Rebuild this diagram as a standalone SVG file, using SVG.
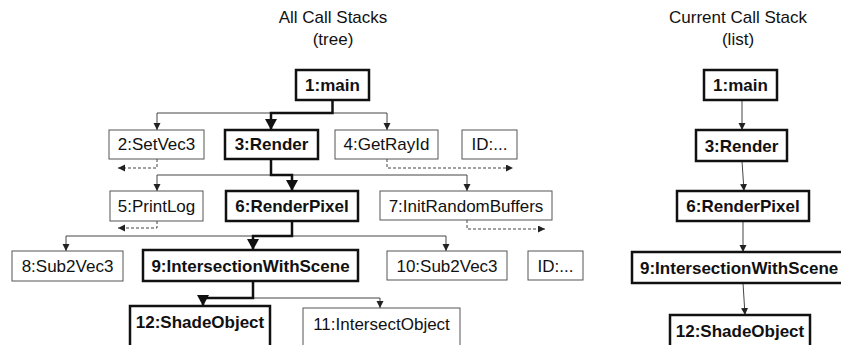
<svg xmlns="http://www.w3.org/2000/svg" width="841" height="345" viewBox="0 0 841 345">
<defs>
<style>
text{font-family:"Liberation Sans",Arial,sans-serif;font-size:17px;fill:#111;text-anchor:middle}
.b{font-weight:bold}
.nt{fill:#fff;stroke:#555;stroke-width:1}
.nb{fill:#fff;stroke:#111;stroke-width:2.5}
.c{fill:none;stroke:#444;stroke-width:1}
.ck{fill:none;stroke:#111;stroke-width:2.5}
.d{fill:none;stroke:#444;stroke-width:1;stroke-dasharray:3 2}
</style>
<marker id="a" markerUnits="userSpaceOnUse" markerWidth="8" markerHeight="8" refX="7" refY="3.5" orient="auto"><path d="M0,0 L7,3.5 L0,7 z" fill="#222"/></marker>
<marker id="ak" markerUnits="userSpaceOnUse" markerWidth="12" markerHeight="12" refX="11" refY="6" orient="auto"><path d="M0,0 L11,6 L0,12 z" fill="#111"/></marker>
</defs>
<rect width="841" height="345" fill="#fff"/>
<g id="titles">
<text x="333" y="23">All Call Stacks</text>
<text x="333" y="45">(tree)</text>
<text x="738" y="23">Current Call Stack</text>
<text x="738" y="45">(list)</text>
</g>
<g id="connectors">
<path class="c" d="M157,113 H387"/>
<path class="c" d="M157,113 V130" marker-end="url(#a)"/>
<path class="c" d="M387,113 V130" marker-end="url(#a)"/>
<path class="ck" d="M332.5,100 V113 H271 V130" marker-end="url(#ak)"/>
<path class="d" d="M157,159 V168 H118" marker-end="url(#a)"/>
<path class="d" d="M387,159 V168 H513" marker-end="url(#a)"/>
<path class="c" d="M157,175 H467"/>
<path class="c" d="M157,175 V191" marker-end="url(#a)"/>
<path class="c" d="M467,175 V191" marker-end="url(#a)"/>
<path class="ck" d="M271,159 V175 H292 V191" marker-end="url(#ak)"/>
<path class="d" d="M157,221 V228 H118" marker-end="url(#a)"/>
<path class="d" d="M467,220 V229 H545" marker-end="url(#a)"/>
<path class="c" d="M66,236 H446"/>
<path class="c" d="M66,236 V251" marker-end="url(#a)"/>
<path class="c" d="M446,236 V251" marker-end="url(#a)"/>
<path class="ck" d="M292,221 V236 H253 V250" marker-end="url(#ak)"/>
<path class="c" d="M253,298 H380 V308" marker-end="url(#a)"/>
<path class="ck" d="M253,281 V298 H203 V306" marker-end="url(#ak)"/>
<path class="c" d="M742,100 V130" marker-end="url(#a)"/>
<path class="c" d="M742,161 L744,191" marker-end="url(#a)"/>
<path class="c" d="M743,221 V252" marker-end="url(#a)"/>
<path class="c" d="M743,283 L745,315" marker-end="url(#a)"/>
</g>
<g id="t1"><rect class="nb" x="296" y="70" width="73" height="30"/><text class="b" x="332.5" y="91">1:main</text></g>
<g id="t2"><rect class="nt" x="109" y="130" width="95" height="29"/><text x="156.5" y="150">2:SetVec3</text></g>
<g id="t3"><rect class="nb" x="225" y="130" width="93" height="29"/><text class="b" x="271.5" y="150">3:Render</text></g>
<g id="t4"><rect class="nt" x="335" y="130" width="103" height="29"/><text x="386.5" y="150">4:GetRayId</text></g>
<g id="tid1"><rect class="nt" x="462" y="130" width="55" height="29"/><text x="489.5" y="150">ID:...</text></g>
<g id="t5"><rect class="nt" x="110" y="191" width="93" height="30"/><text x="156.5" y="212">5:PrintLog</text></g>
<g id="t6"><rect class="nb" x="226" y="191" width="132" height="30"/><text class="b" x="292" y="212">6:RenderPixel</text></g>
<g id="t7"><rect class="nt" x="380" y="191" width="172" height="29"/><text x="466" y="212">7:InitRandomBuffers</text></g>
<g id="t8"><rect class="nt" x="12" y="251" width="111" height="30"/><text x="67.5" y="272">8:Sub2Vec3</text></g>
<g id="t9"><rect class="nb" x="143" y="250" width="215" height="31"/><text class="b" x="250.5" y="272">9:IntersectionWithScene</text></g>
<g id="t10"><rect class="nt" x="387" y="251" width="120" height="29"/><text x="447" y="272">10:Sub2Vec3</text></g>
<g id="tid2"><rect class="nt" x="528" y="251" width="55" height="29"/><text x="555.5" y="272">ID:...</text></g>
<g id="t12"><rect class="nb" x="130" y="306" width="140" height="45"/><text class="b" x="200" y="328">12:ShadeObject</text></g>
<g id="t11"><rect class="nt" x="303" y="308" width="157" height="45"/><text x="381.5" y="330">11:IntersectObject</text></g>
<g id="l1"><rect class="nb" x="704" y="70" width="73" height="30"/><text class="b" x="740.5" y="91">1:main</text></g>
<g id="l3"><rect class="nb" x="696" y="130" width="91" height="31"/><text class="b" x="741.5" y="152">3:Render</text></g>
<g id="l6"><rect class="nb" x="677" y="191" width="132" height="30"/><text class="b" x="743" y="212">6:RenderPixel</text></g>
<g id="l9"><rect class="nb" x="632" y="252" width="220" height="31"/><text class="b" x="640" y="274" style="text-anchor:start">9:IntersectionWithScene</text></g>
<g id="l12"><rect class="nb" x="670" y="315" width="140" height="45"/><text class="b" x="740" y="337">12:ShadeObject</text></g>
</svg>
